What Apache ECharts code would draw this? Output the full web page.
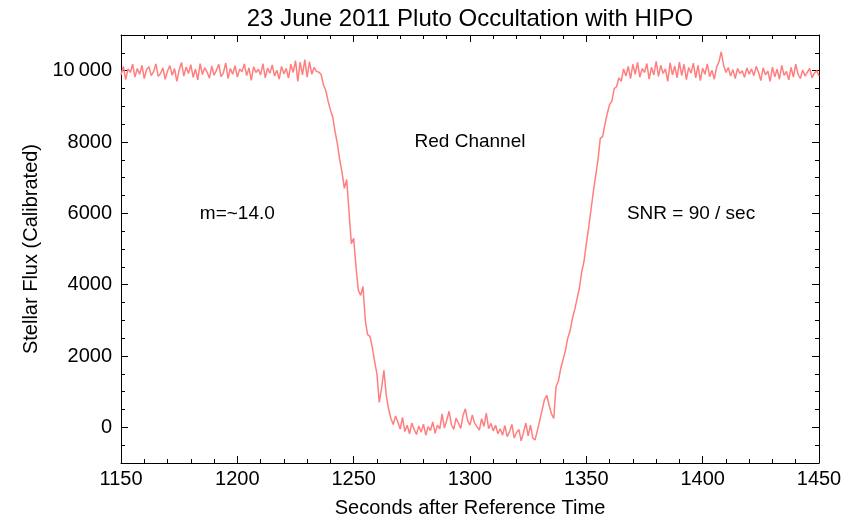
<!DOCTYPE html>
<html>
<head>
<meta charset="utf-8">
<script src="https://cdn.jsdelivr.net/npm/echarts@6/dist/echarts.min.js"></script>
<style>
  html, body { margin: 0; padding: 0; background: #fff; }
  #chart { width: 856px; height: 523px; }
</style>
</head>
<body>
<div id="chart"></div>
<script>
// Light curve of the 23 June 2011 Pluto occultation, red channel, 1 s samples.
const startTime = 1150;   // seconds after reference time of the first sample
const sampleStep = 1;     // seconds between samples

// Unocculted star, 1150 - 1234 s
const fluxBefore = [
  9880, 10120, 9750, 10050, 9950, 10180, 9820, 10060, 9900, 10150,
  9780, 10030, 10110, 9860, 9970, 10190, 9840, 9920, 10080, 9760,
  9990, 10140, 9870, 10060, 9700, 10020, 10230, 9850, 10100, 9920,
  10170, 9810, 10050, 9740, 10200, 9890, 10080, 9960, 9790, 10130,
  9870, 10010, 10180, 9830, 9940, 10220, 9780, 10060, 9900, 10140,
  9820, 10050, 9970, 10190, 9860, 10080, 9730, 10110, 9950, 10040,
  9880, 10200, 9800, 10070, 9930, 10160, 9850, 10010, 9760, 10120,
  9910, 10060, 9790, 10180, 9950, 10280, 9700, 10240, 9880, 10310,
  9820, 10250, 9900, 10090, 9980
];
// Immersion, 1235 - 1268 s
const fluxIngress = [
  9960, 9900, 9600, 9450, 9150, 8900, 8700, 8300, 7950, 7500,
  7150, 6700, 6950, 6050, 5150, 5300, 4500, 3850, 3700, 3950,
  3000, 2600, 2550, 2250, 1850, 1500, 700, 1100, 1600, 900,
  520, 250, 80, 320
];
// Star fully hidden, 1269 - 1331 s
const fluxFloor = [
  150, -50, 280, -120, 60, -180, 120, -60, -200, 40,
  -140, 90, -220, 20, -90, 150, -170, 60, -40, 380,
  -20, 200, 450, 80, -60, 260, 120, -30, 330, 520,
  180, 60, 350, 110, 20, -80, 240, 30, 400, -40,
  110, -100, 60, -180, -40, -220, 50, -260, -120, 80,
  -300, -150, -60, -380, -140, 120, -240, 60, -300, -350,
  -80, 200, 480
];
// Emersion, 1332 - 1365 s
const fluxEgress = [
  780, 900, 620, 380, 250, 1150, 1300, 1650, 1900, 2150,
  2500, 2700, 3050, 3300, 3600, 3900, 4350, 4650, 5150, 5600,
  6100, 6600, 7050, 7500, 8100, 8150, 8500, 8800, 9050, 9150,
  9500, 9550, 9800, 9700
];
// Unocculted star again, 1366 - 1450 s
const fluxAfter = [
  10050, 9850, 10120, 9780, 10180, 9900, 10230, 9820, 10060, 9950,
  10200, 9760, 10100, 9880, 10260, 9840, 10150, 9920, 10050, 9700,
  10220, 9880, 10130, 9800, 10240, 9860, 10180, 9750, 10090, 9930,
  10210, 9800, 10150, 9720, 10070, 9900, 10190, 9830, 10010, 9760,
  10100, 10250, 10530, 10150, 9950, 10090, 9850, 10030, 9780, 10060,
  9920, 10000, 9810, 10080, 9900, 10050, 9860, 10120, 9950, 9720,
  10080, 9880, 9990, 9700, 10100, 9830, 10040, 9760, 10150, 9870,
  9980, 9740, 10090, 9820, 10180, 9900, 9780, 10020, 9850, 9960,
  10060, 9800, 9930, 10000, 9850
];

// Axis ticks
const xTicks = [1150, 1200, 1250, 1300, 1350, 1400, 1450];
const yTicks = [0, 2000, 4000, 6000, 8000, 10000];

// Text notes inside the plot: [seconds, flux, text]
const notes = [
  [1300, 8000, 'Red Channel'],
  [1200, 6000, 'm=~14.0'],
  [1395, 6000, 'SNR = 90 / sec']
];

const flux = [].concat(fluxBefore, fluxIngress, fluxFloor, fluxEgress, fluxAfter);
const lightCurve = flux.map((v, i) => [startTime + i * sampleStep, v]);

const FONT = '"Liberation Sans", Arial, Helvetica, sans-serif';
const BLACK = '#000';

function xAxisDef(pos, withLabels) {
  return {
    type: 'value', position: pos, gridIndex: 0,
    min: xTicks[0], max: xTicks[xTicks.length - 1], interval: 50,
    axisLine: { show: true, onZero: false, lineStyle: { color: BLACK, width: 1 } },
    axisTick: { show: true, inside: true, length: 7, lineStyle: { color: BLACK, width: 1 } },
    minorTick: { show: true, splitNumber: 5, length: 4, lineStyle: { color: BLACK, width: 1 } },
    axisLabel: {
      show: withLabels, color: BLACK, fontSize: 20, fontFamily: FONT, margin: 6,
      formatter: v => String(v)
    },
    splitLine: { show: false }, minorSplitLine: { show: false },
    name: withLabels ? 'Seconds after Reference Time' : '',
    nameLocation: 'middle', nameGap: 35,
    nameTextStyle: { color: BLACK, fontSize: 20, fontFamily: FONT }
  };
}

function yMajorDef(pos, withLabels) {
  return {
    type: 'value', position: pos, gridIndex: 0, min: -1000, max: 11000,
    axisLine: { show: true, onZero: false, lineStyle: { color: BLACK, width: 1 } },
    axisTick: { show: true, inside: true, length: 7, customValues: yTicks, lineStyle: { color: BLACK, width: 1 } },
    axisLabel: {
      show: withLabels, customValues: yTicks, color: BLACK, fontSize: 20, fontFamily: FONT, margin: 9,
      formatter: v => (v >= 10000 ? String(v).replace(/(\d{3})$/, '\u2009$1') : String(v))
    },
    splitLine: { show: false },
    name: withLabels ? 'Stellar Flux (Calibrated)' : '',
    nameLocation: 'middle', nameGap: 78, nameRotate: 90,
    nameTextStyle: { color: BLACK, fontSize: 20, fontFamily: FONT }
  };
}

function yMinorDef(pos) {
  return {
    type: 'value', position: pos, gridIndex: 0, min: -1000, max: 11000, interval: 500,
    axisLine: { show: false },
    axisTick: { show: true, inside: true, length: 4, lineStyle: { color: BLACK, width: 1 } },
    axisLabel: { show: false },
    splitLine: { show: false }
  };
}

const chart = echarts.init(document.getElementById('chart'), null, { renderer: 'canvas' });
chart.setOption({
  animation: false,
  backgroundColor: '#fff',
  grid: { left: 121, right: 37, top: 35, bottom: 56, containLabel: false },
  xAxis: [xAxisDef('bottom', true), xAxisDef('top', false)],
  yAxis: [yMajorDef('left', true), yMinorDef('left'), yMajorDef('right', false), yMinorDef('right')],
  series: [
    {
      name: 'Red Channel flux', type: 'line', xAxisIndex: 0, yAxisIndex: 0,
      data: lightCurve, showSymbol: false, symbol: 'none',
      lineStyle: { color: '#ff7f7f', width: 1.5 },
      z: 3
    }
  ]
});

// Title and in-plot notes, placed through the axes' own scales
const noteGraphics = notes.map(([t, f, text]) => {
  const [px, py] = chart.convertToPixel({ xAxisIndex: 0, yAxisIndex: 0 }, [t, f]);
  return {
    type: 'text', x: px, y: py, silent: true,
    style: { text, fill: BLACK, font: '19px ' + FONT, textAlign: 'center', textVerticalAlign: 'middle' }
  };
});
const left = chart.convertToPixel({ xAxisIndex: 0 }, xTicks[0]);
const right = chart.convertToPixel({ xAxisIndex: 0 }, xTicks[xTicks.length - 1]);
chart.setOption({
  graphic: [{
    type: 'text', x: (left + right) / 2, y: 19, silent: true,
    style: {
      text: '23 June 2011 Pluto Occultation with HIPO',
      fill: BLACK, font: '24px ' + FONT, textAlign: 'center', textVerticalAlign: 'middle'
    }
  }].concat(noteGraphics)
});
</script>
</body>
</html>
